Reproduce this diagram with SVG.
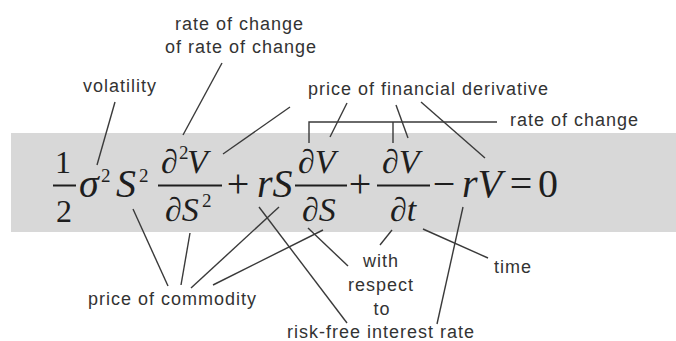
<svg xmlns="http://www.w3.org/2000/svg" width="676" height="341" viewBox="0 0 676 341">
<style>
.lbl{font-family:"Liberation Sans",Arial,sans-serif;font-size:18px;letter-spacing:1px;fill:#333}
.m{font-family:"Liberation Serif","Times New Roman",serif;font-style:italic;fill:#1e1e1e}
.big{font-size:40px}
.fr{font-size:34px}
.up{font-style:normal}
.sup{font-family:"Liberation Serif","Times New Roman",serif;font-size:19px;fill:#1e1e1e}
.bar{stroke:#1e1e1e;stroke-width:2}
.c{stroke:#3a3a3a;stroke-width:1.4;fill:none}
</style>
<rect x="11" y="133" width="665" height="99" fill="#d8d8d8"/>
<g id="equation">
  <g id="half">
    <text class="m up" x="63" y="173" font-size="32" text-anchor="middle">1</text>
    <line class="bar" x1="53" y1="185.5" x2="76" y2="185.5"/>
    <text class="m up" x="64" y="222" font-size="32" text-anchor="middle">2</text>
  </g>
  <g id="sigma2">
    <text class="m big" x="79" y="197">σ</text>
    <text class="sup" x="101" y="182">2</text>
  </g>
  <g id="S2">
    <text class="m big" x="116" y="197">S</text>
    <text class="sup" x="139" y="182">2</text>
  </g>
  <g id="d2VdS2">
    <text class="m fr" x="161" y="173">∂</text>
    <text class="sup" x="179" y="159" font-size="17">2</text>
    <text class="m fr" x="187" y="173">V</text>
    <line class="bar" x1="158" y1="185.5" x2="222" y2="185.5"/>
    <text class="m fr" x="165" y="221">∂S</text>
    <text class="sup" x="202" y="207" font-size="17">2</text>
  </g>
  <text class="m up big" x="238" y="197" text-anchor="middle">+</text>
  <g id="rS">
    <text class="m big" x="257" y="197">rS</text>
  </g>
  <g id="dVdS">
    <text class="m fr" x="298" y="173">∂V</text>
    <line class="bar" x1="295" y1="185.5" x2="347" y2="185.5"/>
    <text class="m fr" x="302" y="221">∂S</text>
  </g>
  <text class="m up big" x="360" y="197" text-anchor="middle">+</text>
  <g id="dVdt">
    <text class="m fr" x="382" y="173">∂V</text>
    <line class="bar" x1="377" y1="185.5" x2="430" y2="185.5"/>
    <text class="m fr" x="390" y="221">∂t</text>
  </g>
  <text class="m up big" x="444" y="197" text-anchor="middle">−</text>
  <g id="rV">
    <text class="m big" x="462" y="197">rV</text>
  </g>
  <text class="m up big" x="521" y="197" text-anchor="middle">=</text>
  <text class="m up big" x="538" y="197">0</text>
</g>
<g id="connectors">
  <line class="c" x1="115" y1="102" x2="97" y2="165"/>
  <line class="c" x1="222" y1="63" x2="183" y2="135"/>
  <line class="c" x1="290" y1="107" x2="223" y2="154"/>
  <line class="c" x1="347" y1="103" x2="330" y2="137"/>
  <line class="c" x1="396" y1="105" x2="408" y2="138"/>
  <line class="c" x1="421" y1="102" x2="485" y2="158"/>
  <polyline class="c" points="309,143 309,122 497,122"/>
  <line class="c" x1="393" y1="122" x2="393" y2="143"/>
  <line class="c" x1="133" y1="209" x2="168" y2="286"/>
  <line class="c" x1="190" y1="233" x2="181" y2="285"/>
  <line class="c" x1="279" y1="207" x2="191" y2="288"/>
  <line class="c" x1="323" y1="230" x2="213" y2="285"/>
  <line class="c" x1="259" y1="207" x2="347" y2="323"/>
  <line class="c" x1="463" y1="207" x2="437" y2="324"/>
  <line class="c" x1="308" y1="228" x2="348" y2="266"/>
  <line class="c" x1="392" y1="230" x2="380" y2="245"/>
  <line class="c" x1="423" y1="229" x2="488" y2="258"/>
</g>
<g id="label-rate-of-change-2">
  <text class="lbl" x="175" y="30">rate of change</text>
  <text class="lbl" x="165" y="53">of rate of change</text>
</g>
<g id="label-volatility"><text class="lbl" x="83" y="92">volatility</text></g>
<g id="label-price-derivative"><text class="lbl" x="308" y="95">price of financial derivative</text></g>
<g id="label-rate-of-change"><text class="lbl" x="510" y="126">rate of change</text></g>
<g id="label-price-commodity"><text class="lbl" x="88" y="305">price of commodity</text></g>
<g id="label-with-respect-to">
  <text class="lbl" x="381" y="267" text-anchor="middle">with</text>
  <text class="lbl" x="381" y="291" text-anchor="middle">respect</text>
  <text class="lbl" x="382" y="315" text-anchor="middle">to</text>
</g>
<g id="label-time"><text class="lbl" x="494" y="273">time</text></g>
<g id="label-risk-free"><text class="lbl" x="287" y="338">risk-free interest rate</text></g>
</svg>
